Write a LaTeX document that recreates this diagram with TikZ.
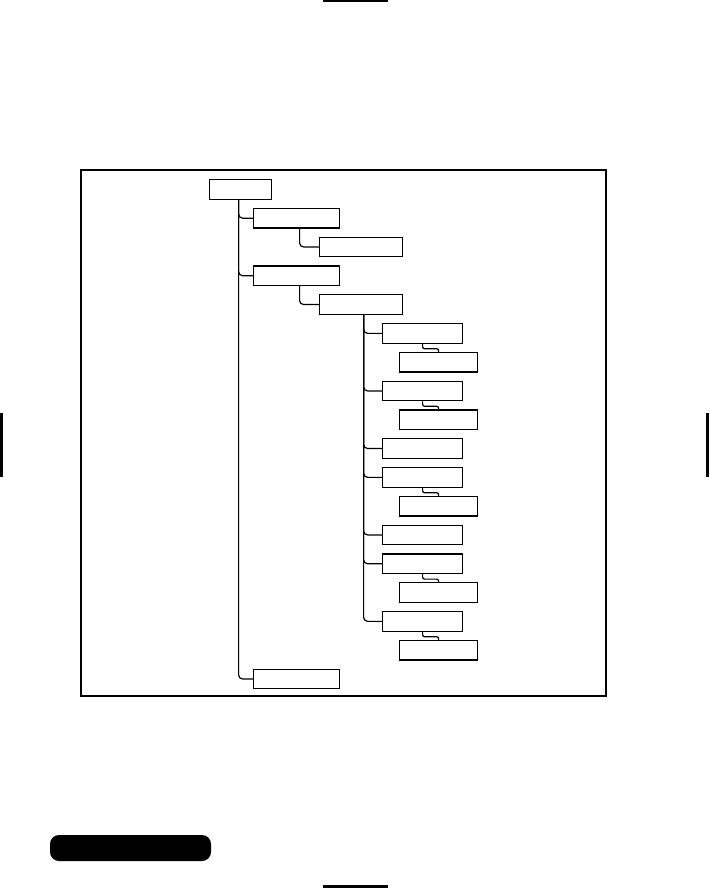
\documentclass[tikz,border=0pt]{standalone}
\usetikzlibrary{positioning}

\begin{document}
\begin{tikzpicture}[
x=1pt,y=-1pt,
line width=1.2pt,
box/.style={
  draw,
  fill=white,
  inner sep=0pt,
  minimum height=19.5pt,
  anchor=north west
  },
lvl0/.style={box, minimum width=62pt},
lvl1/.style={box, minimum width=86pt},
lvl2/.style={box, minimum width=83pt},
lvl3/.style={box, minimum width=80pt},
lvl4/.style={box, minimum width=78pt},
link/.style={rounded corners=4pt},
jog/.style={rounded corners=2pt}
]
\useasboundingbox (0,0) rectangle (709,888);

% page marks
\fill (323,0) rectangle (388,2);
\fill (323,885) rectangle (388,888);
\fill (0,413) rectangle (3,477);
\fill (706,413) rectangle (709,477);
\fill[rounded corners=9pt] (50,835) rectangle (211,861);

% frame
\draw (81,170) rectangle (606,696);

% boxes, one per row
\foreach \n/\s/\x/\r in {
  root/lvl0/209/0, a/lvl1/253/1, b/lvl2/319/2, c/lvl1/253/3, d/lvl2/319/4,
  e1/lvl3/382/5, f1/lvl4/399/6, e2/lvl3/382/7, f2/lvl4/399/8,
  e3/lvl3/382/9, e4/lvl3/382/10, f4/lvl4/399/11, e5/lvl3/382/12,
  e6/lvl3/382/13, f6/lvl4/399/14, e7/lvl3/382/15, f7/lvl4/399/16,
  g/lvl1/253/17}
  \node[\s] (\n) at (\x,{179+28.8*\r}) {};

% trunks
\foreach \p/\c/\dx in {root/a/-2, root/c/-2, root/g/-2, a/b/3, c/d/3,
  d/e1/2.5, d/e2/2.5, d/e3/2.5, d/e4/2.5, d/e5/2.5, d/e6/2.5, d/e7/2.5}
  \draw[link] ([xshift=\dx]\p.south) |- (\c.west);

% small jogs
\foreach \p/\c in {e1/f1, e2/f2, e4/f4, e6/f6, e7/f7}
  \draw[jog] (\p.south) -- ++(0,5) -| (\c.north);

\end{tikzpicture}
\end{document}
